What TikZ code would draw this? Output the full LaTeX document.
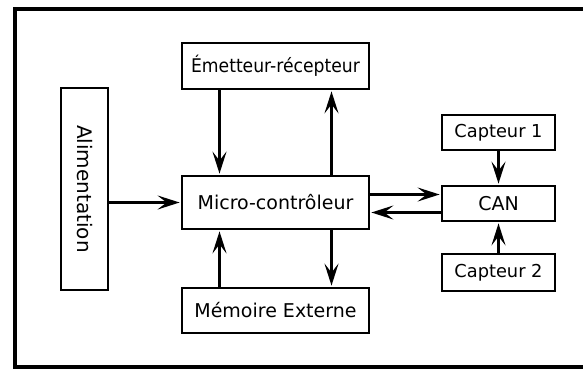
\documentclass[tikz,border=0pt]{standalone}
\usepackage{fontspec}
\setmainfont{DejaVu Sans}
\usetikzlibrary{arrows.meta}
\begin{document}
\begin{tikzpicture}[x=1pt,y=-1pt,
  blk/.style={draw=black,line width=2.8pt,fill=white,inner sep=0pt,font=\fontsize{19}{22}\selectfont},
  arr/.style={line width=2.7pt,-{Stealth[length=22pt,width=14pt,inset=9pt]},shorten >=1pt}]
\clip (0,0) rectangle (583,369);
\fill[white] (0,0) rectangle (583,369);
\draw[line width=4pt] (14.7,8.8) rectangle (620,366.8);
\node[blk,minimum width=47pt,minimum height=202pt] (alim) at (84.5,189) {};
\node[rotate=-90,font=\fontsize{20}{24}\selectfont] (alimt) at (alim.center) {Alimentation};
\node[blk,minimum width=187pt,minimum height=46pt,font=\fontsize{18.8}{22}\selectfont] (emet) at (275.5,66) {\scalebox{0.915}[1]{Émetteur-récepteur}};
\node[blk,minimum width=187pt,minimum height=53pt] (micro) at (275.5,202.5) {Micro-contrôleur};
\node[blk,minimum width=187pt,minimum height=45pt] (mem) at (275.5,310.5) {Mémoire Externe};
\node[blk,minimum width=113pt,minimum height=35pt,font=\fontsize{17.8}{21}\selectfont] (cap1) at (498.5,132.5) {Capteur 1};
\node[blk,minimum width=113pt,minimum height=35pt] (can) at (498.5,203.5) {CAN};
\node[blk,minimum width=113pt,minimum height=37pt,font=\fontsize{17.8}{21}\selectfont] (cap2) at (498.5,272.5) {Capteur 2};
\draw[arr] ([xshift=-56pt]emet.south) -- ([xshift=-56pt]micro.north);
\draw[arr] ([xshift=56pt]micro.north) -- ([xshift=56pt]emet.south);
\draw[arr] ([xshift=-56pt]mem.north) -- ([xshift=-56pt]micro.south);
\draw[arr] ([xshift=56pt]micro.south) -- ([xshift=56pt]mem.north);
\draw[arr] (alim.east |- micro.west) -- (micro.west);
\draw[arr] ([yshift=8pt]micro.east) -- ([yshift=8pt]micro.east -| can.west);
\draw[arr] ([yshift=-10pt]micro.east -| can.west) -- ([yshift=-10pt]micro.east);
\draw[arr] (cap1.south) -- (can.north);
\draw[arr] (cap2.north) -- (can.south);
\end{tikzpicture}
\end{document}
